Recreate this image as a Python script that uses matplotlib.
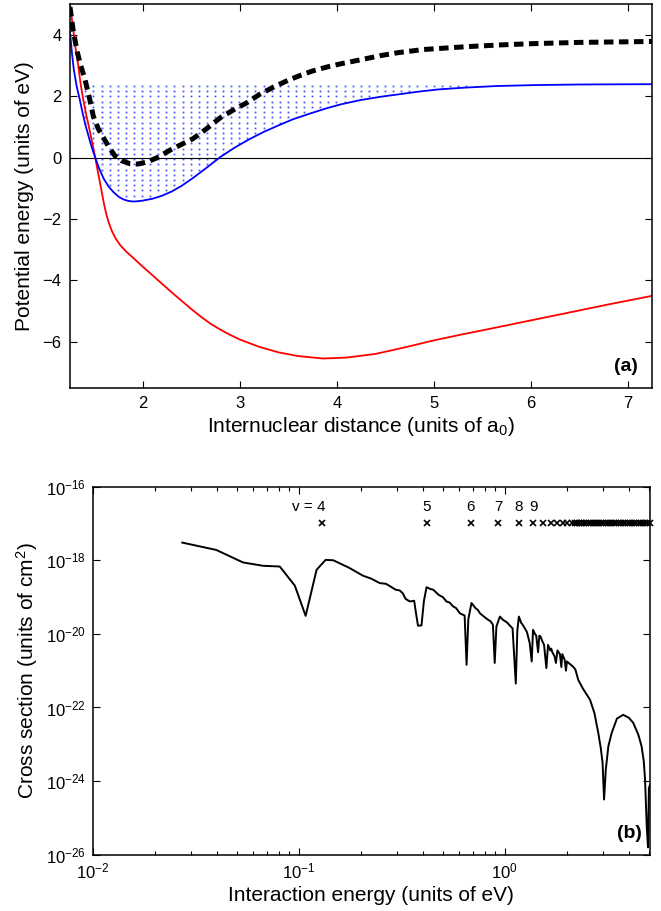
import numpy as np
import matplotlib
matplotlib.use('Agg')
import matplotlib.pyplot as plt
from matplotlib.ticker import FixedLocator, LogLocator, NullLocator, NullFormatter

plt.rcParams['font.family'] = ['Liberation Sans', 'DejaVu Sans']
plt.rcParams['mathtext.fontset'] = 'custom'
plt.rcParams['mathtext.rm'] = 'Liberation Sans'
plt.rcParams['mathtext.it'] = 'Liberation Sans:italic'
plt.rcParams['mathtext.bf'] = 'Liberation Sans:bold'

# ---- panel (a): potential curves ----
red_r = [1.25, 1.27, 1.29, 1.31, 1.335, 1.355, 1.38, 1.41, 1.445, 1.478, 1.51, 1.54,
         1.57, 1.60, 1.625, 1.65, 1.68, 1.72, 1.77, 1.83, 1.90, 2.00, 2.10, 2.20, 2.30,
         2.40, 2.50, 2.60, 2.70, 2.80, 2.90, 3.00, 3.20, 3.40, 3.60, 3.86, 4.10, 4.40,
         4.70, 5.00, 5.30, 5.60, 6.00, 6.40, 6.80, 7.25]
red_e = [5.0, 4.5, 4.0, 3.5, 3.0, 2.5, 2.0, 1.5, 1.0, 0.5, 0.0, -0.5, -1.0, -1.5, -1.85,
         -2.12, -2.38, -2.63, -2.86, -3.06, -3.26, -3.55, -3.83, -4.11, -4.39, -4.66,
         -4.93, -5.18, -5.41, -5.60, -5.77, -5.92, -6.16, -6.34, -6.46, -6.54, -6.51,
         -6.39, -6.18, -5.95, -5.75, -5.56, -5.30, -5.04, -4.78, -4.50]

blue_r = [1.25, 1.27, 1.29, 1.32, 1.35, 1.38, 1.41, 1.45, 1.48, 1.51, 1.55, 1.60, 1.65,
          1.70, 1.75, 1.80, 1.85, 1.90, 1.95, 2.00, 2.10, 2.20, 2.30, 2.40, 2.52, 2.65,
          2.80, 2.95, 3.10, 3.25, 3.40, 3.55, 3.72, 3.90, 4.05, 4.24, 4.45, 4.64, 4.85,
          5.05, 5.33, 5.65, 6.03, 6.50, 7.25]
blue_e = [4.1, 3.4, 2.85, 2.3, 1.9, 1.45, 1.05, 0.6, 0.28, 0.0, -0.35, -0.7, -0.95,
          -1.13, -1.27, -1.36, -1.41, -1.43, -1.42, -1.40, -1.34, -1.24, -1.10, -0.92,
          -0.66, -0.35, 0.02, 0.33, 0.60, 0.84, 1.05, 1.25, 1.43, 1.61, 1.74, 1.87,
          1.98, 2.06, 2.15, 2.22, 2.28, 2.33, 2.36, 2.38, 2.39]

dash_r = [1.25, 1.28, 1.32, 1.36, 1.40, 1.45, 1.49, 1.54, 1.59, 1.65, 1.71, 1.78, 1.87,
          1.95, 2.05, 2.15, 2.28, 2.40, 2.52, 2.65, 2.80, 2.95, 3.07, 3.20, 3.35, 3.50,
          3.62, 3.75, 3.90, 4.05, 4.24, 4.45, 4.64, 4.90, 5.33, 5.70, 6.02, 6.50, 7.25]
dash_e = [4.9, 4.2, 3.5, 3.0, 2.6, 1.95, 1.35, 0.95, 0.67, 0.35, 0.07, -0.10, -0.20,
          -0.21, -0.14, 0.0, 0.24, 0.43, 0.62, 0.92, 1.30, 1.58, 1.78, 2.05, 2.30, 2.52,
          2.67, 2.82, 2.95, 3.06, 3.18, 3.32, 3.42, 3.52, 3.61, 3.67, 3.71, 3.75, 3.78]

# dotted shading between the blue curve and its dissociation limit
dot_top = 2.33
dot_dy = 0.17
dot_dx = 0.0835

# ---- panel (b): cross section ----
energy = [0.0272, 0.0398, 0.0537, 0.0671, 0.0809, 0.0957, 0.108, 0.122, 0.135, 0.147,
          0.175, 0.205, 0.225, 0.247, 0.265, 0.28, 0.295, 0.309, 0.32, 0.33, 0.346,
          0.363, 0.372, 0.379, 0.394, 0.405, 0.417, 0.435, 0.449, 0.48, 0.50, 0.521,
          0.54, 0.56, 0.58, 0.605, 0.625, 0.638, 0.652, 0.665, 0.689, 0.72, 0.74, 0.757,
          0.78, 0.80, 0.83, 0.85, 0.875, 0.893, 0.91, 0.946, 0.98, 1.0, 1.03, 1.047,
          1.09, 1.13, 1.15, 1.17, 1.20, 1.22, 1.25, 1.28, 1.32, 1.35, 1.37, 1.40, 1.42,
          1.45, 1.47, 1.49, 1.52, 1.55, 1.59, 1.62, 1.66, 1.68, 1.70, 1.74, 1.77, 1.80,
          1.85, 1.88, 1.90, 1.95, 1.98, 2.00, 2.05, 2.10, 2.15, 2.20, 2.27, 2.40, 2.59,
          2.72, 2.84, 2.92, 2.98, 3.03, 3.09, 3.18, 3.30, 3.50, 3.75, 4.00, 4.20, 4.45,
          4.61, 4.72, 4.79, 4.88, 4.95, 5.00, 5.06]
log_sigma = [-17.52, -17.72, -18.06, -18.15, -18.17, -18.69, -19.51, -18.26, -17.99,
             -18.00, -18.20, -18.42, -18.50, -18.62, -18.64, -18.72, -18.80, -18.82,
             -18.90, -19.05, -19.12, -19.10, -19.50, -19.78, -19.77, -19.10, -18.73,
             -18.78, -18.80, -18.95, -19.00, -19.12, -19.15, -19.25, -19.30, -19.44,
             -19.48, -19.50, -20.84, -19.60, -19.16, -19.30, -19.35, -19.44, -19.50,
             -19.55, -19.62, -19.65, -19.75, -20.79, -19.80, -19.53, -19.62, -19.65,
             -19.70, -19.75, -19.85, -21.35, -19.90, -19.53, -19.70, -19.75, -19.85,
             -19.95, -20.25, -20.75, -19.89, -20.00, -20.05, -20.50, -20.05, -20.07,
             -20.20, -20.30, -20.93, -20.30, -20.45, -20.40, -20.50, -20.60, -20.79,
             -20.45, -20.55, -20.90, -20.55, -20.70, -21.00, -20.75, -20.80, -20.85,
             -20.90, -20.97, -21.25, -21.50, -21.79, -22.15, -22.69, -23.10, -23.50,
             -24.50, -23.68, -23.05, -22.69, -22.30, -22.20, -22.28, -22.42, -22.75,
             -23.06, -23.45, -23.96, -25.22, -25.80, -24.20, -24.10]
sigma = [10.0 ** s for s in log_sigma]

level_e = [0.129, 0.417, 0.684, 0.927, 1.17, 1.37, 1.53, 1.67, 1.80, 1.91, 2.01, 2.11,
           2.19, 2.23, 2.28, 2.33, 2.38, 2.43, 2.49, 2.55, 2.61, 2.67, 2.73, 2.80, 2.87,
           2.94, 3.01, 3.08, 3.16, 3.24, 3.32, 3.40, 3.48, 3.57, 3.66, 3.75, 3.84, 3.94,
           4.04, 4.14, 4.24, 4.35, 4.46, 4.57, 4.68, 4.80, 4.92, 5.04]
level_sigma = 1e-17
level_labels = ['v = 4', '5', '6', '7', '8', '9']

fig = plt.figure(figsize=(6.61, 9.11), dpi=100)

# ---------- (a) ----------
ax = fig.add_axes([0.1059, 0.5741, 0.8805, 0.4215])
cols = np.arange(1.25 + dot_dx * 1.9, 7.25, dot_dx)
rows = dot_top - dot_dy * np.arange(0, 22)
gx, gy = np.meshgrid(cols, rows)
gx, gy = gx.ravel(), gy.ravel()
inside = gy > np.interp(gx, blue_r, blue_e) + 0.04
ax.plot(gx[inside], gy[inside], linestyle='none', marker='s', ms=1.3, mew=0,
        color='#2a3cff', alpha=0.85)
ax.axhline(0, color='k', lw=0.8)
ax.plot(red_r, red_e, color='red', lw=1.3)
ax.plot(blue_r, blue_e, color='blue', lw=1.3)
ax.plot(dash_r, dash_e, color='k', lw=3.6, dashes=(1.9, 1.1), solid_capstyle='butt',
        dash_capstyle='butt')
ax.set_xlim(1.25, 7.25)
ax.set_ylim(-7.5, 5)
ax.xaxis.set_major_locator(FixedLocator([2, 3, 4, 5, 6, 7]))
ax.yaxis.set_major_locator(FixedLocator([-6, -4, -2, 0, 2, 4]))
ax.tick_params(direction='in', top=True, right=True, length=5, width=0.8,
               labelsize=12, pad=6)
ax.set_xlabel('Internuclear distance (units of a$_0$)', fontsize=15, labelpad=3)
ax.set_ylabel('Potential energy (units of eV)', fontsize=15)
ax.yaxis.set_label_coords(-0.062, 0.5)
ax.text(0.975, 0.035, '(a)', transform=ax.transAxes, ha='right', va='bottom',
        fontsize=14, fontweight='bold')
for s in ax.spines.values():
    s.set_linewidth(1.1)

# ---------- (b) ----------
bx = fig.add_axes([0.1402, 0.0618, 0.8431, 0.4040])
bx.plot(energy, sigma, color='k', lw=1.4)
bx.plot(level_e, [level_sigma] * len(level_e), linestyle='none', marker='x', ms=4.5,
        mew=1.2, color='k', clip_on=False)
for i, lab in enumerate(level_labels):
    if i == 0:
        bx.text(level_e[i] * 1.05, 10 ** -16.55, lab, ha='right', va='center', fontsize=11)
    else:
        bx.text(level_e[i], 10 ** -16.55, lab, ha='center', va='center', fontsize=11)
bx.set_xscale('log')
bx.set_yscale('log')
bx.set_xlim(0.01, 5.06)
bx.set_ylim(1e-26, 1e-16)
bx.xaxis.set_major_locator(FixedLocator([0.01, 0.1, 1]))
bx.xaxis.set_minor_locator(LogLocator(base=10, subs=np.arange(2, 10)))
bx.xaxis.set_minor_formatter(NullFormatter())
bx.yaxis.set_major_locator(FixedLocator([1e-26, 1e-24, 1e-22, 1e-20, 1e-18, 1e-16]))
bx.yaxis.set_minor_locator(NullLocator())
bx.tick_params(which='both', direction='in', top=True, right=True, width=0.8,
               labelsize=12)
bx.tick_params(which='major', length=5, pad=5)
bx.tick_params(which='minor', length=3)
bx.set_xlabel('Interaction energy (units of eV)', fontsize=15, labelpad=3)
bx.set_ylabel('Cross section (units of cm$^2$)', fontsize=15)
bx.yaxis.set_label_coords(-0.095, 0.5)
bx.text(0.985, 0.035, '(b)', transform=bx.transAxes, ha='right', va='bottom',
        fontsize=14, fontweight='bold')
for s in bx.spines.values():
    s.set_linewidth(1.1)

fig.savefig('out.png', dpi=100)
